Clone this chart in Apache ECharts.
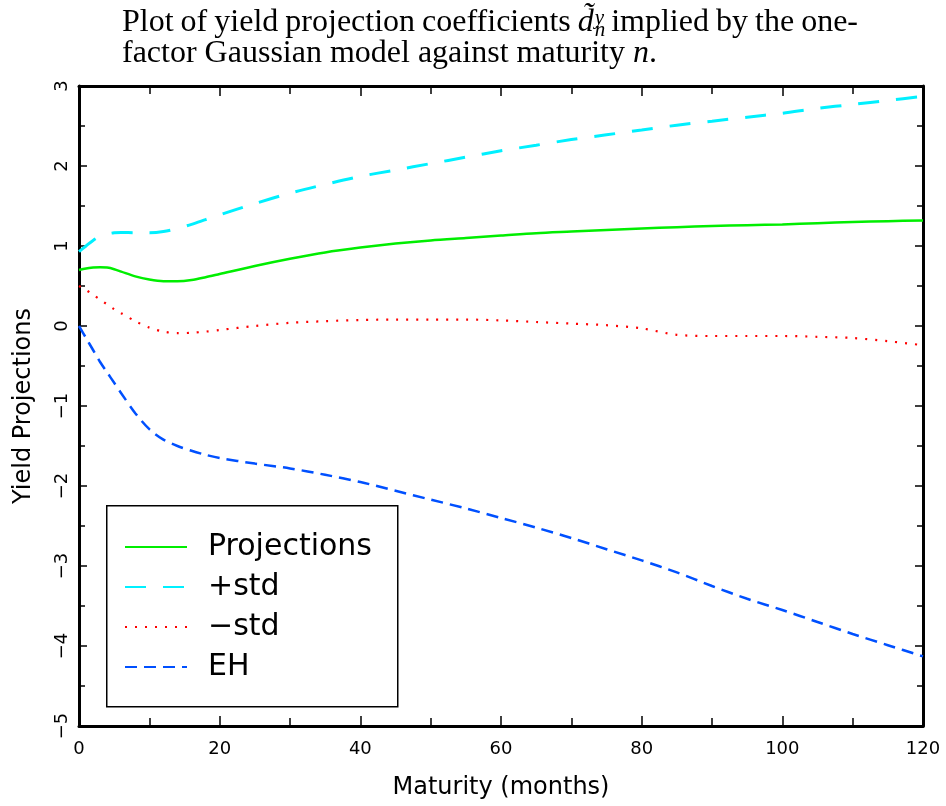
<!DOCTYPE html>
<html>
<head>
<meta charset="utf-8">
<script src="https://cdn.jsdelivr.net/npm/echarts@6/dist/echarts.min.js"></script>
<style>
html,body{margin:0;padding:0;background:#fff;}
#chart{width:946px;height:806px;}
</style>
</head>
<body>
<div id="chart"></div>
<script>
// ---- data ----
const months = [0,1,2,3,4,5,6,8,10,12,14,16,18,20,25,30,35,40,45,50,55,60,65,70,75,80,85,90,95,100,105,110,115,120];
const projections = [0.70,0.72,0.73,0.735,0.73,0.71,0.68,0.62,0.58,0.56,0.56,0.575,0.61,0.65,0.75,0.84,0.92,0.98,1.03,1.07,1.10,1.13,1.16,1.18,1.20,1.22,1.235,1.25,1.26,1.27,1.285,1.30,1.31,1.32];
const plusStd = [0.93,1.0,1.07,1.12,1.15,1.165,1.17,1.165,1.165,1.18,1.22,1.27,1.33,1.39,1.53,1.66,1.77,1.87,1.95,2.03,2.11,2.19,2.26,2.33,2.39,2.45,2.51,2.56,2.61,2.66,2.72,2.77,2.82,2.87];
const minusStd = [0.50,0.45,0.39,0.33,0.27,0.21,0.16,0.06,-0.02,-0.07,-0.09,-0.085,-0.07,-0.05,0.00,0.04,0.06,0.075,0.08,0.08,0.08,0.07,0.05,0.03,0.01,-0.03,-0.11,-0.125,-0.125,-0.125,-0.135,-0.15,-0.19,-0.24];
const eh = [0.0,-0.15,-0.30,-0.45,-0.58,-0.71,-0.84,-1.09,-1.29,-1.42,-1.50,-1.56,-1.61,-1.65,-1.72,-1.78,-1.86,-1.95,-2.06,-2.17,-2.28,-2.40,-2.52,-2.65,-2.79,-2.93,-3.08,-3.25,-3.41,-3.55,-3.70,-3.85,-3.99,-4.13];
const seriesNames = ['Projections','+std','\u2212std','EH'];
const xTicks = {min:0, max:120, interval:20};
const yTicks = {min:-5, max:3, interval:1};
const titleLine1Words = ['Plot','of','yield','projection','coefficients','@D','implied','by','the','one-'];
const titleLine2 = 'factor Gaussian model against maturity ';

const pairs = vals => months.map((m,i)=>[m, vals[i]]);

const SANS = 'DejaVu Sans';
const SERIF = 'Liberation Serif';
const minus = v => String(v).replace('-', '\u2212');

const chart = echarts.init(document.getElementById('chart'));

// ---- title layout (line 1 justified like the LaTeX caption) ----
const ctx = document.createElement('canvas').getContext('2d');
const TFS = 32, SFS = 21;
const fontR = TFS + 'px "' + SERIF + '"';
const fontI = 'italic ' + TFS + 'px "' + SERIF + '"';
const fontS = 'italic ' + SFS + 'px "' + SERIF + '"';
const measure = (t, f) => { ctx.font = f; return ctx.measureText(t).width; };
const wD = measure('d', fontI) + 1 + measure('y', fontS);
const wordW = titleLine1Words.map(w => w === '@D' ? wD : measure(w, fontR));
const line1Left = 122, line1Right = 858;
const gap = (line1Right - line1Left - wordW.reduce((a,b)=>a+b,0)) / (titleLine1Words.length - 1);
const base1 = 33, base2 = 64;
const mid = (b, fs) => b - 0.34 * fs;
const titleGraphics = [];
let cx = line1Left;
titleLine1Words.forEach((w, i) => {
  if (w === '@D') {
    titleGraphics.push({type:'text', x:cx, y:mid(base1,TFS), z:100, silent:true,
      style:{text:'d\u0303', font:fontI, fill:'#000', verticalAlign:'middle'}});
    const sx = cx + measure('d', fontI) + 1;
    titleGraphics.push({type:'text', x:sx, y:mid(base1-7,SFS), z:100, silent:true,
      style:{text:'y', font:fontS, fill:'#000', verticalAlign:'middle'}});
    titleGraphics.push({type:'text', x:sx, y:mid(base1+5,SFS), z:100, silent:true,
      style:{text:'n', font:fontS, fill:'#000', verticalAlign:'middle'}});
  } else {
    titleGraphics.push({type:'text', x:cx, y:mid(base1,TFS), z:100, silent:true,
      style:{text:w, font:fontR, fill:'#000', verticalAlign:'middle'}});
  }
  cx += wordW[i] + gap;
});
titleGraphics.push({type:'text', x:line1Left, y:mid(base2,TFS), z:100, silent:true,
  style:{text:titleLine2, font:fontR, fill:'#000', verticalAlign:'middle'}});
const l2w = measure(titleLine2, fontR);
titleGraphics.push({type:'text', x:line1Left + l2w, y:mid(base2,TFS), z:100, silent:true,
  style:{text:'n', font:fontI, fill:'#000', verticalAlign:'middle'}});
titleGraphics.push({type:'text', x:line1Left + l2w + measure('n', fontI), y:mid(base2,TFS), z:100, silent:true,
  style:{text:'.', font:fontR, fill:'#000', verticalAlign:'middle'}});

const tickStyle = {color:'#000', width:1.5};
const mkAxis = (o) => Object.assign({
  axisLine:{show:true, onZero:false, lineStyle:{color:'#000', width:3}},
  splitLine:{show:false},
  minorSplitLine:{show:false}
}, o);

const option = {
  animation:false,
  backgroundColor:'#fff',
  grid:{left:79, right:23, top:86, bottom:80, containLabel:false},
  xAxis:[
    mkAxis({
      type:'value', position:'bottom', min:xTicks.min, max:xTicks.max, interval:xTicks.interval,
      axisTick:{show:true, inside:true, length:10, lineStyle:tickStyle},
      minorTick:{show:true, splitNumber:2, length:8, lineStyle:tickStyle},
      axisLabel:{fontFamily:SANS, fontSize:18, color:'#000', margin:14},
      name:'Maturity (months)', nameLocation:'middle', nameGap:50,
      nameTextStyle:{fontFamily:SANS, fontSize:24, color:'#000'}
    }),
    mkAxis({
      type:'value', position:'top', min:xTicks.min, max:xTicks.max, interval:xTicks.interval,
      axisTick:{show:true, inside:true, length:10, lineStyle:tickStyle},
      minorTick:{show:true, splitNumber:2, length:8, lineStyle:tickStyle},
      axisLabel:{show:false}
    })
  ],
  yAxis:[
    mkAxis({
      type:'value', position:'left', min:yTicks.min, max:yTicks.max, interval:yTicks.interval,
      axisTick:{show:true, inside:true, length:8, lineStyle:tickStyle},
      minorTick:{show:true, splitNumber:2, length:6, lineStyle:tickStyle},
      axisLabel:{fontFamily:SANS, fontSize:18, color:'#000', rotate:90, margin:8, formatter:minus},
      name:'Yield Projections', nameLocation:'middle', nameGap:43, nameRotate:90,
      nameTextStyle:{fontFamily:SANS, fontSize:24, color:'#000'}
    }),
    mkAxis({
      type:'value', position:'right', min:yTicks.min, max:yTicks.max, interval:yTicks.interval,
      axisTick:{show:true, inside:true, length:8, lineStyle:tickStyle},
      minorTick:{show:true, splitNumber:2, length:6, lineStyle:tickStyle},
      axisLabel:{show:false}
    })
  ],
  legend:{
    orient:'vertical', left:124, top:532, padding:0, z:200,
    itemWidth:62, itemHeight:14, itemGap:10,
    itemStyle:{opacity:0},
    textStyle:{fontFamily:SANS, fontSize:30, color:'#000', lineHeight:30, padding:[0,0,0,16]},
    data:seriesNames
  },
  series:[
    {name:seriesNames[0], type:'line', data:pairs(projections), showSymbol:false, symbol:'none', smooth:0.3,
     lineStyle:{color:'#00ee00', width:2.5, type:'solid'}, itemStyle:{color:'#00ee00'}, z:4},
    {name:seriesNames[1], type:'line', data:pairs(plusStd), showSymbol:false, symbol:'none', smooth:0.3,
     lineStyle:{color:'#00f0ff', width:3, type:[21,17]}, itemStyle:{color:'#00f0ff'}, z:3},
    {name:seriesNames[2], type:'line', data:pairs(minusStd), showSymbol:false, symbol:'none', smooth:0.3,
     lineStyle:{color:'#ff0000', width:2.2, type:[2,8]}, itemStyle:{color:'#ff0000'}, z:3},
    {name:seriesNames[3], type:'line', data:pairs(eh), showSymbol:false, symbol:'none', smooth:0.3,
     lineStyle:{color:'#0050ff', width:2.5, type:[12,7]}, itemStyle:{color:'#0050ff'}, z:3}
  ],
  graphic:[
    {type:'rect', left:106, top:505, z:100, silent:true,
     shape:{width:291, height:201}, style:{fill:'#fff', stroke:'#000', lineWidth:1.5}}
  ].concat(titleGraphics)
};
chart.setOption(option);
</script>
</body>
</html>
